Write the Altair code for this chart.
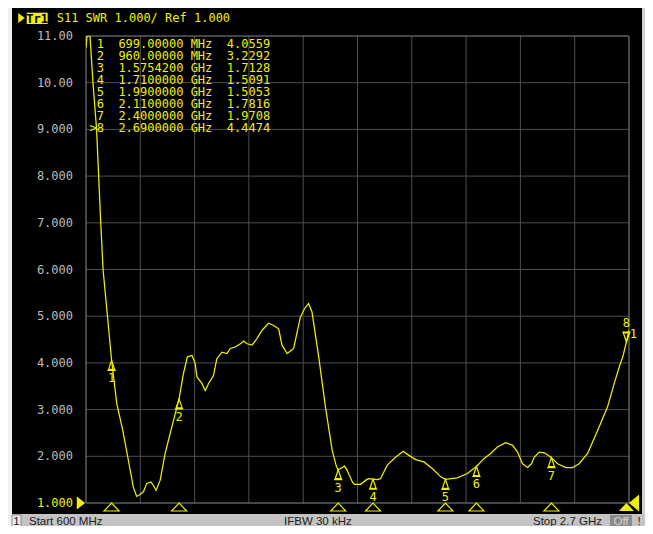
import altair as alt
import pandas as pd

# ---------------- data ----------------
freq_mhz = [600, 604, 615.5, 627, 641, 649, 657, 666, 683, 699,
            719, 742, 764, 783, 796, 809, 822, 835, 851, 860,
            871, 887, 906, 932, 960, 976, 992, 1010, 1022, 1029,
            1048, 1061, 1074, 1093, 1106, 1126, 1145, 1158, 1177, 1197,
            1210, 1223, 1242, 1261, 1281, 1306, 1326, 1345, 1358, 1378,
            1403, 1429, 1445, 1461, 1474, 1500, 1526, 1552, 1569, 1575.42,
            1584, 1600, 1610, 1630, 1638, 1662, 1685, 1693, 1710, 1726,
            1739, 1765, 1797, 1827, 1849, 1875, 1907, 1939, 1972, 1990,
            2036, 2075, 2110, 2139, 2165, 2191, 2223, 2249, 2269, 2288,
            2308, 2323, 2333, 2353, 2375, 2400, 2424, 2456, 2482, 2507,
            2540, 2579, 2617, 2643, 2662, 2676, 2690, 2700]
swr_values = [10.75, 11.0, 11.0, 10.0, 9.0, 8.0, 7.0, 6.0, 5.0, 4.0559,
              3.13, 2.56, 1.91, 1.34, 1.14, 1.18, 1.24, 1.42, 1.45, 1.38,
              1.27, 1.49, 2.06, 2.63, 3.2292, 3.75, 4.13, 4.16, 3.99, 3.70,
              3.56, 3.41, 3.56, 3.73, 4.09, 4.23, 4.20, 4.31, 4.34, 4.41,
              4.47, 4.41, 4.38, 4.52, 4.70, 4.85, 4.80, 4.73, 4.38, 4.20,
              4.31, 4.98, 5.16, 5.27, 5.09, 4.13, 3.06, 2.13, 1.77, 1.7128,
              1.74, 1.79, 1.70, 1.45, 1.40, 1.40, 1.50, 1.52, 1.5091, 1.50,
              1.52, 1.81, 1.98, 2.11, 2.02, 1.93, 1.88, 1.74, 1.56, 1.5053,
              1.54, 1.63, 1.7816, 1.95, 2.06, 2.20, 2.29, 2.24, 2.09, 1.84,
              1.76, 1.84, 1.98, 2.09, 2.07, 1.9708, 1.84, 1.76, 1.76, 1.84,
              2.06, 2.56, 3.06, 3.56, 3.91, 4.13, 4.4474, 4.70]

marker_ids = [1, 2, 3, 4, 5, 6, 7, 8]
marker_freq = [699.0, 960.0, 1575.42, 1710.0, 1990.0, 2110.0, 2400.0, 2690.0]
marker_swr = [4.0559, 3.2292, 1.7128, 1.5091, 1.5053, 1.7816, 1.9708, 4.4474]
active_marker = 8

y_ticks = [1, 2, 3, 4, 5, 6, 7, 8, 9, 10, 11]
x_grid = [600, 810, 1020, 1230, 1440, 1650, 1860, 2070, 2280, 2490, 2700]
ref_level = [1.0]

trace_name = "Tr1"
header_text = "S11 SWR 1.000/ Ref 1.000"
channel_no = "1"
status_start = "Start 600 MHz"
status_ifbw = "IFBW 30 kHz"
status_stop = "Stop 2.7 GHz"
status_off = "Off"
status_bang = "!"

# ---------------- styling ----------------
YEL = "#f0f000"
GRID = "#4e4e4e"
FRAME = "#8a8a8a"
MONO = "DejaVu Sans Mono"
SANS = "Liberation Sans"
BAR = "#c4c4c4"
W, H = 543, 467
ROW_H = 12.06
CHAR_W = 7.22

XS = alt.Scale(domain=[600, 2700], nice=False, zero=False)
YS = alt.Scale(domain=[1, 11], nice=False, zero=False)
X2 = alt.X("freq:Q", scale=XS, axis=None)
Y2 = alt.Y("swr:Q", scale=YS, axis=None)

# ---------------- tables built from the arrays ----------------
trace_df = pd.DataFrame({"freq": freq_mhz, "swr": swr_values})
mk_df = pd.DataFrame({"id": marker_ids, "freq": marker_freq, "swr": marker_swr,
                      "label": [str(i) for i in marker_ids],
                      "active": [i == active_marker for i in marker_ids]})
xg_df = pd.DataFrame({"freq": x_grid})
yg_df = pd.DataFrame({"swr": y_ticks})


def fmt_freq(f):
    if f < 1000:
        return f"{f:.5f}", "MHz"
    return f"{f / 1000:.7f}", "GHz"


one = pd.DataFrame({"k": [0]})
ref_df = pd.DataFrame({"swr": ref_level})

TRACE_MK = "M0,0 L-0.3,0.9 L0.3,0.9 Z M-0.42,1 L0.42,1"
ACTIVE_MK = "M0,0 L-0.3,-0.9 L0.3,-0.9 Z M-0.42,-1 L0.42,-1"
BOTTOM_MK = "M-1,0.53 L0,-0.53 L1,0.53 Z"
LEFT_REF = "M-0.65,-1 L0.65,0 L-0.65,1 Z"
RIGHT_REF = "M0.6,-1 L-0.6,0 L0.6,1 Z"

layers = []

# window chrome: left strip, right border, status bar
layers.append(alt.Chart(one).mark_rect(color="#f0f0f0").encode(
    x=alt.value(-78), x2=alt.value(-74), y=alt.value(-28), y2=alt.value(495)))
layers.append(alt.Chart(one).mark_rect(color="#d0d0d0").encode(
    x=alt.value(556), x2=alt.value(560), y=alt.value(-28), y2=alt.value(495)))
layers.append(alt.Chart(one).mark_rect(color=BAR).encode(
    x=alt.value(-74), x2=alt.value(560), y=alt.value(478), y2=alt.value(495)))

# grid (interior lines) and frame
layers.append(alt.Chart(xg_df).transform_filter("datum.freq > 600 && datum.freq < 2700").mark_rule(
    color=GRID, strokeWidth=1).encode(x=X2, y=alt.value(0), y2=alt.value(H)))
layers.append(alt.Chart(yg_df).transform_filter("datum.swr > 1 && datum.swr < 11").mark_rule(
    color=GRID, strokeWidth=1).encode(y=Y2, x=alt.value(0), x2=alt.value(W)))
layers.append(alt.Chart(one).mark_rect(fill=None, fillOpacity=0, stroke=FRAME, strokeWidth=1).encode(
    x=alt.value(0), x2=alt.value(W), y=alt.value(0), y2=alt.value(H)))

# y labels
layers.append(alt.Chart(yg_df).transform_calculate(
    lab="datum.swr >= 10 ? format(datum.swr, '.2f') : format(datum.swr, '.3f')"
).mark_text(align="right", baseline="middle", font=MONO, fontSize=12).encode(
    x=alt.value(-13), y=Y2, text="lab:N",
    color=alt.condition("datum.swr == 1", alt.value(YEL), alt.value("#bcbcbc"))))

# trace
layers.append(alt.Chart(trace_df).mark_line(color=YEL, strokeWidth=1.25, clip=True).encode(x=X2, y=Y2))

# markers on the trace
layers.append(alt.Chart(mk_df).transform_filter("!datum.active").mark_point(
    shape=TRACE_MK, size=400, filled=False, color=YEL, strokeWidth=1.2, opacity=1).encode(x=X2, y=Y2))
layers.append(alt.Chart(mk_df).transform_filter("!datum.active").mark_text(
    dy=18, font=MONO, fontSize=12, color=YEL).encode(x=X2, y=Y2, text="label:N"))
layers.append(alt.Chart(mk_df).transform_filter("datum.active").mark_point(
    shape=ACTIVE_MK, size=400, filled=False, color=YEL, strokeWidth=1.2, opacity=1).encode(x=X2, y=Y2))
layers.append(alt.Chart(mk_df).transform_filter("datum.active").mark_text(
    dy=-19, font=MONO, fontSize=12, color=YEL).encode(x=X2, y=Y2, text="label:N"))
layers.append(alt.Chart(mk_df).transform_filter("datum.active").mark_text(
    dx=7, dy=-8, font=MONO, fontSize=12, color=YEL).encode(x=X2, y=Y2, text=alt.value(channel_no)))

# marker indicators under the grid
layers.append(alt.Chart(mk_df).transform_filter("!datum.active").mark_point(
    shape=BOTTOM_MK, size=225, filled=False, color=YEL, strokeWidth=1.2, opacity=1).encode(
    x=X2, y=alt.value(471)))
layers.append(alt.Chart(mk_df).transform_filter("datum.active").mark_point(
    shape=BOTTOM_MK, size=225, filled=True, color=YEL, opacity=1).encode(
    x=X2, y=alt.value(471)))

# reference level arrows
layers.append(alt.Chart(ref_df).mark_point(shape=LEFT_REF, size=169, filled=True, color=YEL, opacity=1).encode(
    x=alt.value(-5), y=Y2))
layers.append(alt.Chart(ref_df).mark_point(shape=RIGHT_REF, size=289, filled=True, color=YEL, opacity=1).encode(
    x=alt.value(548), y=Y2))

# marker table, one text per row
for row, (i, f, v) in enumerate(zip(marker_ids, marker_freq, marker_swr)):
    fs, unit = fmt_freq(f)
    line = f"{i}  {fs} {unit}  {v:.4f}".replace(" ", "\u00a0")
    ypix = 12 + ROW_H * row
    layers.append(alt.Chart(one).mark_text(align="left", baseline="alphabetic", font=MONO,
                                           fontSize=12, color=YEL).encode(
        x=alt.value(3.5 + CHAR_W), y=alt.value(ypix), text=alt.value(line)))
    if i == active_marker:
        layers.append(alt.Chart(one).mark_text(align="left", baseline="alphabetic", font=MONO,
                                               fontSize=12, color=YEL).encode(
            x=alt.value(3.5), y=alt.value(ypix), text=alt.value(">")))

# header line
layers.append(alt.Chart(one).mark_point(shape=LEFT_REF, size=100, filled=True, color=YEL, opacity=1).encode(
    x=alt.value(-64.5), y=alt.value(-18)))
layers.append(alt.Chart(one).mark_rect(color=YEL).encode(
    x=alt.value(-59.3), x2=alt.value(-38.3), y=alt.value(-23.3), y2=alt.value(-12)))
layers.append(alt.Chart(one).mark_text(font=MONO, fontSize=12, fontWeight="bold", color="black",
                                       baseline="middle").encode(
    x=alt.value(-48.8), y=alt.value(-17.5), text=alt.value(trace_name)))
layers.append(alt.Chart(one).mark_text(font=MONO, fontSize=12, color=YEL, align="left",
                                       baseline="middle").encode(
    x=alt.value(-29.3), y=alt.value(-18), text=alt.value(header_text)))

# status bar
layers.append(alt.Chart(one).mark_rect(color="#ececec", stroke="#8a8a8a", strokeWidth=1).encode(
    x=alt.value(-74), x2=alt.value(-65), y=alt.value(479), y2=alt.value(495)))
layers.append(alt.Chart(one).mark_rect(color="#8a8a8a").encode(
    x=alt.value(524), x2=alt.value(546), y=alt.value(479), y2=alt.value(495)))
status_items = [(-69.5, channel_no, "center", "#202020"),
                (-57, status_start, "left", "#202020"),
                (198, status_ifbw, "left", "#202020"),
                (447, status_stop, "left", "#202020"),
                (535, status_off, "center", "#d4d4d4"),
                (553, status_bang, "center", "#202020")]
for sx, txt, al, col in status_items:
    layers.append(alt.Chart(one).mark_text(font=SANS, fontSize=11.5, color=col, align=al,
                                           baseline="alphabetic").encode(
        x=alt.value(sx), y=alt.value(488.5), text=alt.value(txt)))

chart = alt.layer(*layers).properties(
    width=W, height=H,
    padding={"left": 78, "top": 28, "right": 16, "bottom": 23},
    autosize=alt.AutoSizeParams(type="none"),
    background="black",
).configure_view(stroke=None, fill="black")

chart.save("out.html", embed_options={"renderer": "svg", "actions": False})
